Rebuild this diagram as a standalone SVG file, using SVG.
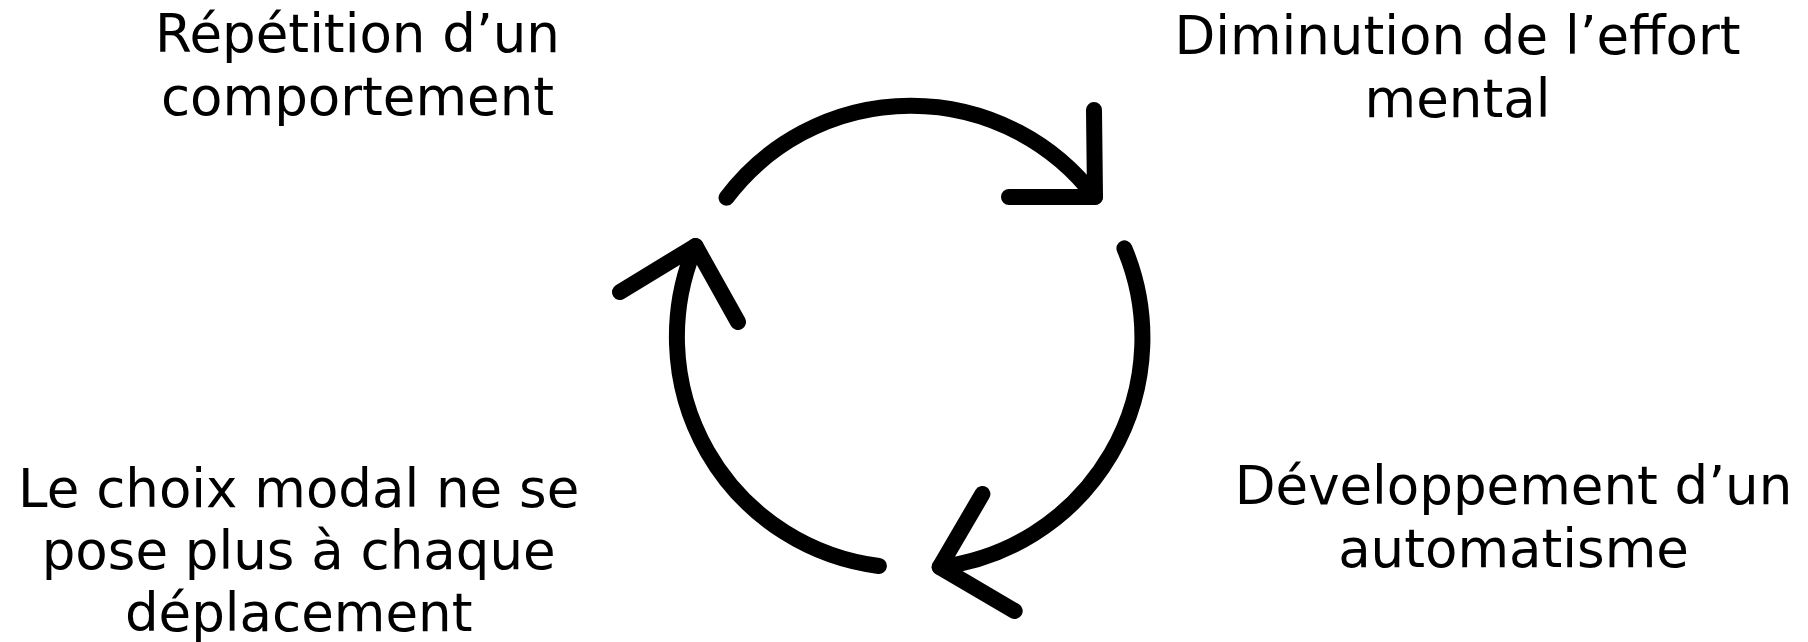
<svg xmlns="http://www.w3.org/2000/svg" width="1808" height="642" viewBox="0 0 1808 642">
<style>
.lbl{font-family:"DejaVu Sans","Liberation Sans",sans-serif;font-size:53px;fill:#000;text-anchor:middle}
.arc{fill:none;stroke:#000;stroke-width:16;stroke-linecap:round;stroke-linejoin:round}
</style>
<rect width="1808" height="642" fill="#fff"/>
<g id="connectors">
<path class="arc" d="M726.5,197.7 A231,231 0 0 1 1095,197"/>
<polyline class="arc" points="1094,110 1095,197 1009,197"/>
<path class="arc" d="M1124.4,248.3 A231,231 0 0 1 939.7,567"/>
<polyline class="arc" points="982.4,494 939.7,567 1014.7,611"/>
<path class="arc" d="M878.9,566 A231,231 0 0 1 695.5,246"/>
<polyline class="arc" points="620,292 695.5,246 738,322"/>
</g>
<g id="n1"><text class="lbl" x="357.5" y="52"><tspan x="357.5">Répétition d’un</tspan><tspan x="357.5" dy="63.4">comportement</tspan></text></g>
<g id="n2"><text class="lbl" x="1457.5" y="54"><tspan x="1457.5">Diminution de l’effort</tspan><tspan x="1457.5" dy="63.4">mental</tspan></text></g>
<g id="n3"><text class="lbl" x="1513.5" y="504"><tspan x="1513.5">Développement d’un</tspan><tspan x="1513.5" dy="63">automatisme</tspan></text></g>
<g id="n4"><text class="lbl" x="298.7" y="507"><tspan x="298.7">Le choix modal ne se</tspan><tspan x="298.7" dy="62">pose plus à chaque</tspan><tspan x="298.7" dy="62">déplacement</tspan></text></g>
</svg>
